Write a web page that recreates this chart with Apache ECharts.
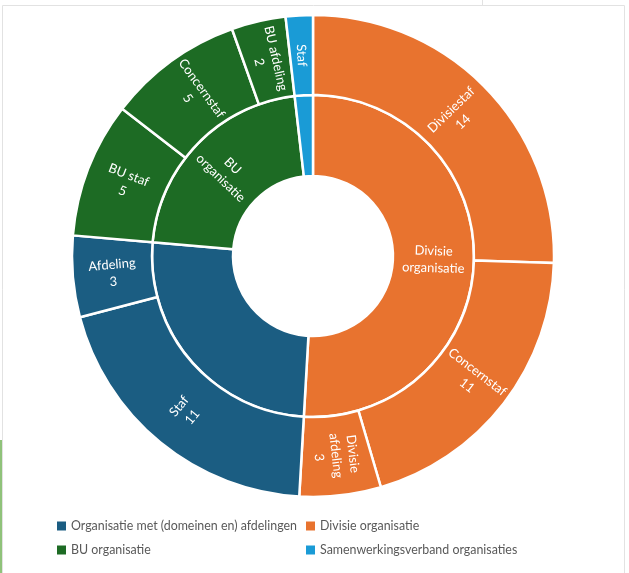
<!DOCTYPE html>
<html><head><meta charset="utf-8">
<script src="https://cdn.jsdelivr.net/npm/echarts@6/dist/echarts.min.js"></script>
<style>html,body{margin:0;padding:0;background:#fff}#c{width:629px;height:573px}</style>
</head><body><div id="c"></div>
<script>
const groupNames = ['Divisie organisatie', 'Organisatie met (domeinen en) afdelingen', 'BU organisatie', 'Samenwerkingsverband organisaties'];
const groupLabels = ['Divisie\norganisatie', '', 'BU\norganisatie', ''];
const groupColors = ['#e8732f', '#1b5d82', '#1d6b24', '#1a9bd6'];
const childNames = [
  ['Divisiestaf', 'Concernstaf', 'Divisie afdeling'],
  ['Staf', 'Afdeling'],
  ['BU staf', 'Concernstaf', 'BU afdeling'],
  ['Staf']
];
const childLabels = [
  ['Divisiestaf\n14', 'Concernstaf\n11', 'Divisie\nafdeling\n3'],
  ['Staf\n11', 'Afdeling\n3'],
  ['BU staf\n5', 'Concernstaf\n5', 'BU afdeling\n2'],
  ['Staf']
];
const childValues = [
  [14, 11, 3],
  [11, 3],
  [5, 5, 2],
  [1]
];
const legendLeft = ['Organisatie met (domeinen en) afdelingen', 'BU organisatie'];
const legendRight = ['Divisie organisatie', 'Samenwerkingsverband organisaties'];

const FONT = 'Lato';
const data = groupNames.map((g, i) => ({
  name: g,
  itemStyle: { color: groupColors[i] },
  label: { show: groupLabels[i] !== '', formatter: groupLabels[i] || ' ' },
  children: childNames[i].map((n, j) => ({
    name: n,
    value: childValues[i][j],
    itemStyle: { color: groupColors[i] },
    label: { formatter: childLabels[i][j] }
  }))
}));

const chart = echarts.init(document.getElementById('c'), null, { renderer: 'canvas' });
chart.setOption({
  animation: false,
  backgroundColor: '#fff',
  graphic: [
    { type: 'rect', shape: { x: 2.5, y: 5.5, width: 622, height: 600 }, style: { fill: 'none', stroke: '#e2e2e2', lineWidth: 1 }, silent: true },
    { type: 'line', shape: { x1: 482.5, y1: 0, x2: 482.5, y2: 5 }, style: { stroke: '#e2e2e2', lineWidth: 1 }, silent: true },
    { type: 'line', shape: { x1: 1, y1: 440, x2: 1, y2: 573 }, style: { stroke: '#8fc27a', lineWidth: 2 }, silent: true }
  ],
  legend: [
    {
      orient: 'vertical', left: 52, top: 515, itemGap: 12, itemWidth: 9, itemHeight: 9,
      icon: 'rect',
      textStyle: { fontFamily: FONT, fontSize: 12.4, color: '#595959' },
      data: legendLeft, selectedMode: false
    },
    {
      orient: 'vertical', left: 301, top: 515, itemGap: 12, itemWidth: 9, itemHeight: 9,
      icon: 'rect',
      textStyle: { fontFamily: FONT, fontSize: 12.4, color: '#595959' },
      data: legendRight, selectedMode: false
    }
  ],
  series: [
    {
      type: 'sunburst',
      center: [313, 256],
      radius: [80, 241],
      sort: null,
      nodeClick: false,
      startAngle: 90,
      data: data,
      itemStyle: { borderColor: '#fff', borderWidth: 2.5 },
      label: { rotate: 'radial', color: '#fff', fontFamily: FONT, fontSize: 13, lineHeight: 17, align: 'center' },
      emphasis: { disabled: true },
      levels: [
        {},
        { r0: 80, r: 161, label: { position: 'inside' } },
        { r0: 161, r: 241, label: { position: 'inside' } }
      ]
    },
    {
      type: 'pie',
      radius: [0, 0],
      center: [313, 256],
      silent: true,
      label: { show: false },
      labelLine: { show: false },
      data: groupNames.map((g, i) => ({ name: g, value: 1, itemStyle: { color: groupColors[i] } }))
    }
  ]
});
</script></body></html>
